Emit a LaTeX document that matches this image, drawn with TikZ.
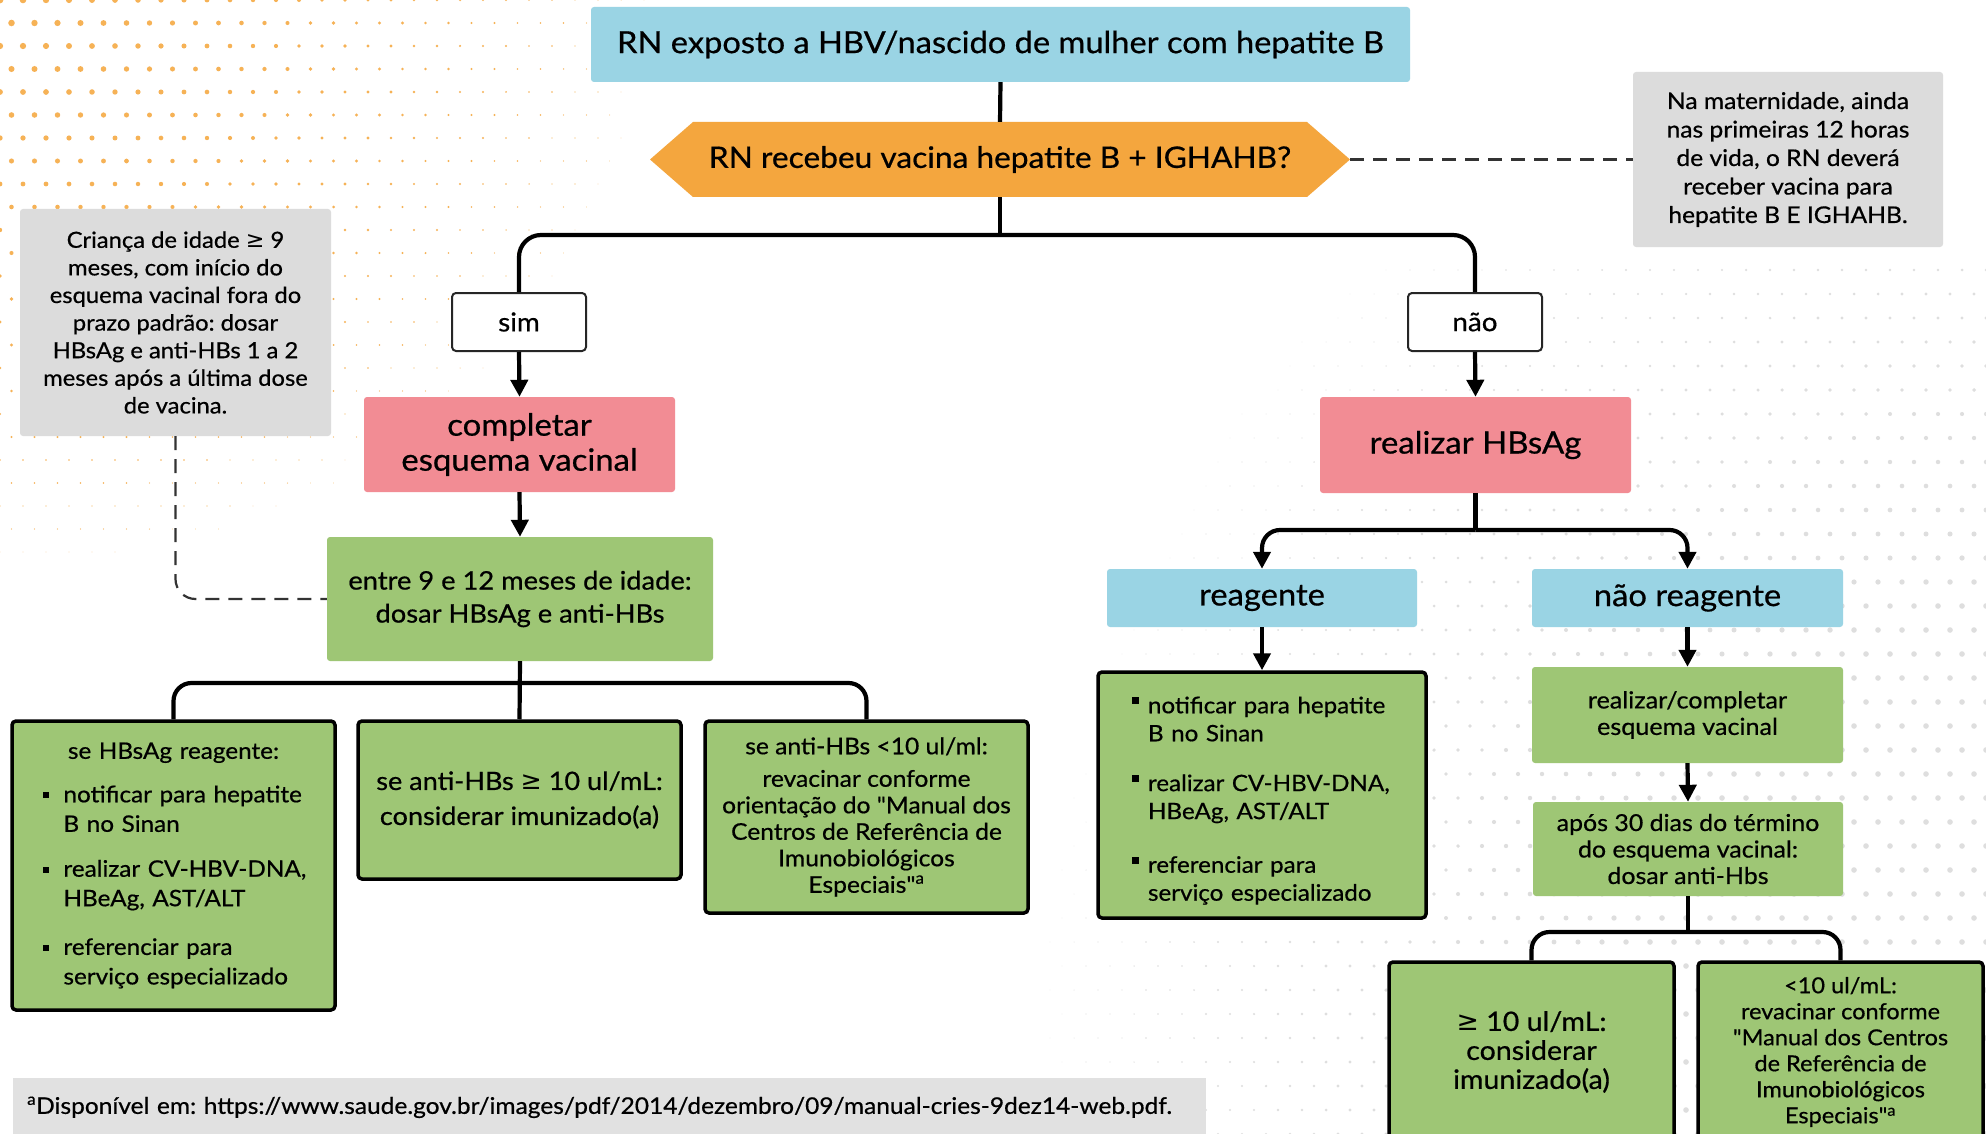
\documentclass[tikz,border=0pt]{standalone}
\usepackage{fontspec}
\setmainfont{Lato}[Ligatures=TeXOff, FakeStretch=1.07, FakeBold=0.6]
\newfontfamily\symf{DejaVu Sans}
\usetikzlibrary{arrows.meta,calc}
\definecolor{cblue}{RGB}{154,212,228}
\definecolor{corange}{RGB}{244,166,62}
\definecolor{cpink}{RGB}{242,140,148}
\definecolor{cgreen}{RGB}{158,198,117}
\definecolor{cgray}{RGB}{220,220,220}
\definecolor{cfoot}{RGB}{225,225,225}
\definecolor{cdot}{RGB}{246,178,86}
\newcommand\gee{{\symf ≥}}
\newcommand\fsz[2]{\fontsize{#1}{#2}\selectfont}
\newcommand\bitemA[1]{\par\noindent\makebox[21pt][l]{\rule[4pt]{6pt}{6pt}}\parbox[t]{270pt}{\raggedright #1}\par}
\newcommand\bitemB[1]{\par\noindent\makebox[16pt][l]{\rule[9pt]{7pt}{7pt}}\parbox[t]{270pt}{\raggedright #1}\par}
\tikzset{
  base/.style={inner sep=0pt, align=center, text=black},
  bluebox/.style={base, fill=cblue, rounded corners=3pt},
  pinkbox/.style={base, fill=cpink, rounded corners=3pt},
  greenbox/.style={base, fill=cgreen, rounded corners=3pt},
  notebox/.style={base, fill=cgray, rounded corners=3pt},
  resbox/.style={base, fill=cgreen, draw=black, line width=3.5pt, rounded corners=4pt},
  labbox/.style={base, fill=white, draw=black!85, line width=2pt, rounded corners=4pt},
  conn/.style={line width=4.2pt, black},
  arr/.style={conn, -{Triangle[length=17pt,width=17pt]}},
  dsh/.style={line width=2.2pt, black!80, dash pattern=on 14pt off 9pt},
}
\begin{document}
\frenchspacing
\begin{tikzpicture}[x=1pt,y=-1pt]
\clip (0,0) rectangle (1986,1134);
\fill[white] (0,0) rectangle (1986,1134);
% background dots (top-left, orange)
\foreach \i in {0,...,34}{
  \foreach \j in {0,...,24}{
    \pgfmathsetmacro\xx{\i*23+mod(\j,2)*11.5}
    \pgfmathsetmacro\yy{\j*23}
    \pgfmathsetmacro\rr{3.4*(1-sqrt((\xx/100)^2+1.3*(\yy/100)^2)/7.3)}
    \ifdim\rr pt>0.4pt
      \fill[cdot] (\xx,\yy) circle[radius=\rr];
    \fi
  }
}
% background dots (right, gray)
\foreach \i in {0,...,44}{
  \foreach \j in {0,...,36}{
    \pgfmathsetmacro\xx{1986-\i*24-mod(\j,2)*12}
    \pgfmathsetmacro\yy{1134-\j*24}
    \pgfmathsetmacro\dd{sqrt(((2050-\xx)/100)^2+((1000-\yy)/100)^2)}
    \pgfmathsetmacro\rr{2.8*min(1,1.6*(1-\dd/11))}
    \ifdim\rr pt>0.4pt
      \fill[black!13] (\xx,\yy) circle[radius=\rr];
    \fi
  }
}

% nodes
\node[bluebox, minimum width=819, minimum height=75, font=\fsz{30.5}{36}] (top) at (1000.5,44.5) {RN exposto a HBV/nascido de mulher com hepatite B};
\fill[corange] (650,159.5) -- (693,122) -- (1307,122) -- (1350,159.5) -- (1307,197) -- (693,197) -- cycle;
\node[base, minimum width=700, minimum height=75, font=\fsz{29.6}{36}] (hex) at (1000,159.5) {RN recebeu vacina hepatite B + IGHAHB?};
\node[notebox, minimum width=310, minimum height=175, font=\fsz{23}{28.5}] (noteR) at (1788,159.5) {Na maternidade, ainda\\nas primeiras 12 horas\\de vida, o RN deverá\\receber vacina para\\hepatite B E IGHAHB.};
\node[notebox, minimum width=311, minimum height=227, font=\fsz{22.2}{27.6}] (noteL) at (175.5,322.5) {Criança de idade \gee{} 9\\meses, com início do\\esquema vacinal fora do\\prazo padrão: dosar\\HBsAg e anti-HBs 1 a 2\\meses após a última dose\\de vacina.};
\node[labbox, minimum width=134, minimum height=58, font=\fsz{26}{28}] (sim) at (519,322) {sim};
\node[labbox, minimum width=134, minimum height=58, font=\fsz{26}{28}] (nao) at (1475,322) {não};
\node[pinkbox, minimum width=311, minimum height=95, font=\fsz{30.7}{35}] (compl) at (519.5,444.5) {completar\\esquema vacinal};
\node[pinkbox, minimum width=311, minimum height=96, font=\fsz{30.8}{36}] (realiz) at (1475.5,445) {realizar HBsAg};
\node[greenbox, minimum width=386, minimum height=124, font=\fsz{25.5}{33}] (entre) at (520,599) {entre 9 e 12 meses de idade:\\dosar HBsAg e anti-HBs};
\node[bluebox, minimum width=310, minimum height=58, font=\fsz{30.6}{34}] (reag) at (1262,598) {reagente};
\node[bluebox, minimum width=311, minimum height=58, font=\fsz{30.6}{34}] (nreag) at (1687.5,598) {não reagente};

\node[resbox, minimum width=323, minimum height=289, text width=262, align=left, font=\fsz{22.7}{29.5}] (b1) at (173.5,865.5)
  {{\centering se HBsAg reagente:\par}\vspace{14pt}\raggedright
   \bitemA{notificar para hepatite\\B no Sinan}\vspace{27pt}
   \bitemA{realizar CV-HBV-DNA,\\HBeAg, AST/ALT}\vspace{27pt}
   \bitemA{referenciar para\\serviço especializado}};
\node[resbox, minimum width=323, minimum height=158, font=\fsz{25.3}{35}] (b2) at (519.5,800) {se anti-HBs \gee{} 10 ul/mL:\\considerar imunizado(a)};
\node[resbox, minimum width=323, minimum height=192, font=\fsz{23}{26.5}] (b3) at (866.5,817) {se anti-HBs <10 ul/ml:\\[6pt]revacinar conforme\\orientação do "Manual dos\\Centros de Referência de\\Imunobiológicos\\Especiais"\textsuperscript{a}};

\node[resbox, minimum width=328, minimum height=246, text width=260, align=left, font=\fsz{22.6}{28}] (rlist) at (1262,795)
  {\raggedright
   \bitemB{notificar para hepatite\\B no Sinan}\vspace{32pt}
   \bitemB{realizar CV-HBV-DNA,\\HBeAg, AST/ALT}\vspace{32pt}
   \bitemB{referenciar para\\serviço especializado}};
\node[greenbox, minimum width=311, minimum height=96, font=\fsz{23.5}{26.5}] (rcomp) at (1687.5,715) {realizar/completar\\esquema vacinal};
\node[greenbox, minimum width=310, minimum height=94, font=\fsz{23.3}{26.5}] (apos) at (1688,849) {após 30 dias do término\\do esquema vacinal:\\dosar anti-Hbs};
\node[resbox, minimum width=285, minimum height=180, font=\fsz{26.7}{29}] (ge) at (1531.5,1052) {\gee{} 10 ul/mL:\\considerar\\imunizado(a)};
\node[resbox, minimum width=285, minimum height=180, font=\fsz{22}{26}] (lt) at (1840.5,1052) {<10 ul/mL:\\revacinar conforme\\"Manual dos Centros\\de Referência de\\Imunobiológicos\\Especiais"\textsuperscript{a}};

\node[base, fill=cfoot, anchor=north west, minimum width=1193, minimum height=60, text width=1165, inner xsep=14pt, align=left, font=\fsz{22.9}{26}] (foot) at (13,1078) {\raisebox{6pt}{\textsuperscript{a}Disponível em: https://www.saude.gov.br/images/pdf/2014/dezembro/09/manual-cries-9dez14-web.pdf.}};

% junctions
\coordinate (j0) at (1000,235);
\coordinate (j1) at (520,683);
\coordinate (j2) at (1475.5,530);
\coordinate (j3) at (1688,932);

% connectors
\draw[conn] (top.south) -- (hex.north);
\draw[conn] (hex.south) -- (j0);
\draw[conn, rounded corners=22pt] (sim.north) |- (j0) -| (nao.north);
\draw[arr] (sim.south) -- (compl.north);
\draw[arr] (nao.south) -- (realiz.north);
\draw[arr] (compl.south) -- (entre.north);
\draw[conn] (entre.south) -- (b2.north);
\draw[conn, rounded corners=18pt] (b1.north) |- (j1) -| (b3.north);
\draw[conn] (realiz.south) -- (j2);
\draw[arr, rounded corners=18pt] (j2) -| (reag.north);
\draw[arr, rounded corners=18pt] (j2) -| (nreag.north);
\draw[arr] (reag.south) -- (rlist.north);
\draw[arr] (nreag.south) -- (rcomp.north);
\draw[arr] (rcomp.south) -- (apos.north);
\draw[conn] (apos.south) -- (j3);
\draw[conn, rounded corners=18pt] (ge.north) |- (j3) -| (lt.north);
\draw[dsh] (hex.east) -- (noteR.west);
\draw[dsh, rounded corners=20pt] (noteL.south) |- (entre.west);
\end{tikzpicture}
\end{document}
